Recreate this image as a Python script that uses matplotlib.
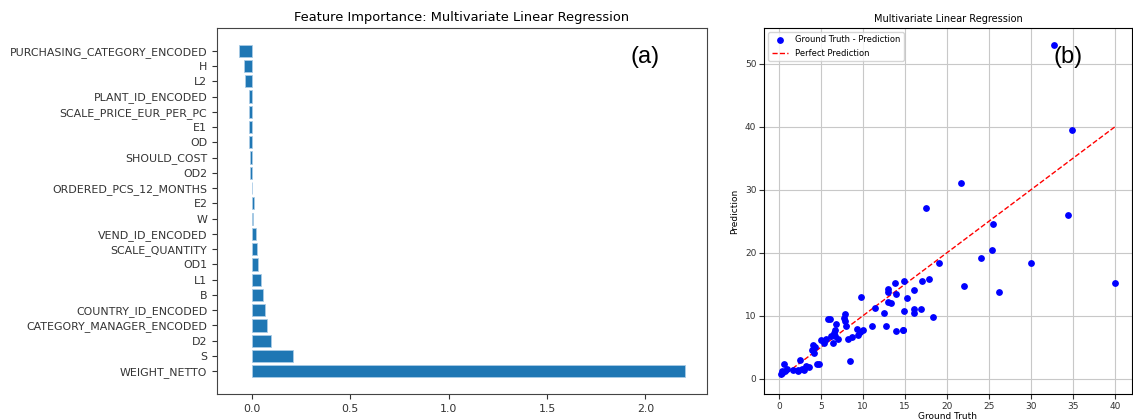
import numpy as np
import matplotlib.pyplot as plt

# Feature importances (coefficients), sorted from largest to smallest
features = ['WEIGHT_NETTO', 'S', 'D2', 'CATEGORY_MANAGER_ENCODED', 'COUNTRY_ID_ENCODED',
            'B', 'L1', 'OD1', 'SCALE_QUANTITY', 'VEND_ID_ENCODED', 'W', 'E2',
            'ORDERED_PCS_12_MONTHS', 'OD2', 'SHOULD_COST', 'OD', 'E1',
            'SCALE_PRICE_EUR_PER_PC', 'PLANT_ID_ENCODED', 'L2', 'H',
            'PURCHASING_CATEGORY_ENCODED']
importance = [2.2, 0.208, 0.100, 0.076, 0.067, 0.059, 0.047, 0.032, 0.029, 0.020,
              0.009, 0.010, 0.001, -0.006, -0.010, -0.014, -0.015, -0.015, -0.015,
              -0.035, -0.040, -0.063]

# Test set: ground truth vs prediction
y_true = [0.2, 0.3, 0.6, 0.7, 1.0, 0.4, 1.7, 2.3, 2.5, 2.7, 3.0, 3.2, 3.6, 2.2,
          3.9, 4.0, 4.1, 4.3, 4.5, 4.7, 5.0, 5.4, 5.6, 5.3, 5.8, 6.1, 6.2, 6.4,
          6.5, 6.7, 6.8, 7.0, 6.7, 7.7, 7.9, 8.0, 7.9, 8.2, 8.5, 8.7, 9.3, 9.4,
          9.6, 9.7, 10.0, 11.0, 11.4, 12.5, 12.7, 13.0, 13.0, 13.0, 13.3, 13.8,
          13.9, 13.9, 14.8, 14.9, 14.9, 15.2, 16.0, 16.1, 16.0, 17.5, 34.4, 25.4,
          25.3, 24.0, 19.0, 30.0, 40.0, 22.0, 26.2, 17.0, 17.8, 16.9, 18.3, 14.8,
          32.7, 34.9, 21.6]
y_pred = [0.8, 1.2, 2.3, 1.2, 1.5, 0.9, 1.4, 1.4, 2.9, 1.5, 1.3, 2.0, 1.9, 1.2,
          4.6, 5.3, 4.1, 5.0, 2.4, 2.4, 6.2, 5.9, 6.3, 5.6, 9.4, 9.5, 6.7, 5.7,
          7.2, 7.7, 8.7, 6.3, 6.8, 9.6, 10.3, 8.3, 9.2, 6.3, 2.8, 6.6, 7.8, 7.0,
          7.4, 13.0, 7.7, 8.4, 11.2, 10.4, 8.3, 14.2, 13.7, 12.1, 12.0, 15.2,
          13.4, 7.6, 7.7, 15.5, 10.8, 12.8, 11.1, 14.0, 10.4, 27.1, 25.9, 24.5,
          20.4, 19.1, 18.3, 18.3, 15.1, 14.7, 13.8, 15.5, 15.8, 11.0, 9.8, 7.7,
          53.0, 39.4, 31.0]

fig = plt.figure(figsize=(11.33, 4.19), dpi=100)

# (a) horizontal bar chart of coefficients
ax1 = fig.add_axes([217 / 1133, 25 / 419, 490 / 1133, 366 / 419])
ax1.barh(features, importance, color='#1f77b4', edgecolor='#a9cbe6', linewidth=0.6)
ax1.set_title('Feature Importance: Multivariate Linear Regression', fontsize=9.4, pad=5)
ax1.tick_params(labelsize=7.9, colors='#333333')
ax1.set_xticks([0.0, 0.5, 1.0, 1.5, 2.0])
for sp in ax1.spines.values():
    sp.set_color('#444444')
ax1.text(0.873, 0.921, '(a)', transform=ax1.transAxes, fontsize=17,
         family='Liberation Sans', ha='center', va='center')

# (b) ground truth vs prediction scatter
ax2 = fig.add_axes([764 / 1133, 25 / 419, 368 / 1133, 366 / 419])
ax2.scatter(y_true, y_pred, color='blue', s=15, label='Ground Truth - Prediction', zorder=3)
lo, hi = min(y_true), max(y_true)
ax2.plot([lo, hi], [lo, hi], 'r--', linewidth=1, label='Perfect Prediction', zorder=2)
ax2.set_title('Multivariate Linear Regression', fontsize=7, pad=4)
ax2.set_xlabel('Ground Truth', fontsize=6.5, labelpad=1)
ax2.set_ylabel('Prediction', fontsize=6.5)
ax2.tick_params(labelsize=6.5, colors='#333333', pad=2)
ax2.grid(True, color='#c8c8c8', linewidth=0.8)
ax2.legend(loc='upper left', fontsize=6, handlelength=2, borderpad=0.4)
ax2.text(0.826, 0.921, '(b)', transform=ax2.transAxes, fontsize=17,
         family='Liberation Sans', ha='center', va='center')

fig.savefig('out.png', dpi=100)
